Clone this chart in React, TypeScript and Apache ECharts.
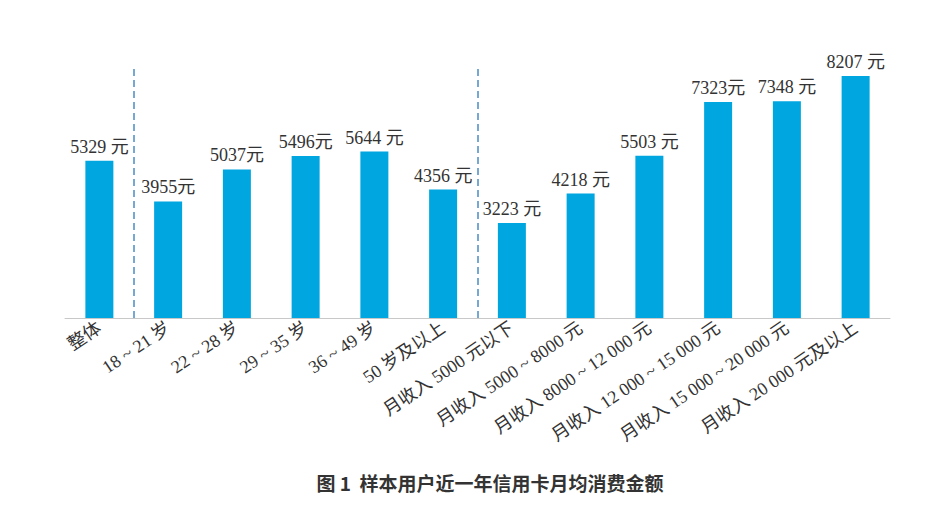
import { useEffect, useRef } from "react";
import * as echarts from "echarts";

const categories = [
  "整体",
  "18 ~ 21 岁",
  "22 ~ 28 岁",
  "29 ~ 35 岁",
  "36 ~ 49 岁",
  "50 岁及以上",
  "月收入 5000 元以下",
  "月收入 5000 ~ 8000 元",
  "月收入 8000 ~ 12 000 元",
  "月收入 12 000 ~ 15 000 元",
  "月收入 15 000 ~ 20 000 元",
  "月收入 20 000 元及以上",
];
const values = [5329, 3955, 5037, 5496, 5644, 4356, 3223, 4218, 5503, 7323, 7348, 8207];
const valueLabels = [
  "5329 元",
  "3955元",
  "5037元",
  "5496元",
  "5644 元",
  "4356 元",
  "3223 元",
  "4218 元",
  "5503 元",
  "7323元",
  "7348 元",
  "8207 元",
];
// group separators sit on category boundaries
const separators = [1, 6];

const serif = '"Liberation Serif", "Noto Sans CJK SC", serif';

const App = () => {
  const chartRef = useRef<HTMLDivElement>(null);

  useEffect(() => {
    if (!chartRef.current) return;
    const chart = echarts.init(chartRef.current, null, { renderer: "svg" });

    chart.setOption({
      animation: false,
      backgroundColor: "#fff",
      title: {
        text: "图 1  样本用户近一年信用卡月均消费金额",
        left: 477,
        textAlign: "center",
        top: 460,
        textStyle: {
          fontFamily: '"Noto Sans CJK SC", sans-serif',
          fontSize: 19,
          fontWeight: "bold",
          color: "#333",
        },
      },
      grid: { left: 57, right: 52, top: 57, bottom: 200 },
      xAxis: [
        {
          type: "category",
          data: categories,
          axisLine: { lineStyle: { color: "#c8c8c8", width: 1 } },
          axisTick: { length: 4, lineStyle: { color: "#c8c8c8" } },
          axisLabel: {
            interval: 0,
            rotate: 34,
            margin: 8,
            color: "#333",
            fontFamily: serif,
            fontSize: 18,
          },
        },
        { type: "value", min: 0, max: 12, show: false },
      ],
      yAxis: { type: "value", min: 0, max: 8580, show: false },
      series: [
        {
          type: "bar",
          data: values,
          barWidth: 28,
          itemStyle: { color: "#00a6e0" },
          label: {
            show: true,
            position: "top",
            distance: 5,
            color: "#333",
            fontFamily: serif,
            fontSize: 18,
            formatter: (p: any) => valueLabels[p.dataIndex],
          },
        },
        {
          type: "scatter",
          xAxisIndex: 1,
          data: [],
          markLine: {
            silent: true,
            symbol: "none",
            label: { show: false },
            lineStyle: { color: "#4a8cc4", type: [7, 4], width: 1.5 },
            data: separators.map((x) => ({ xAxis: x })),
          },
        },
      ],
    });

    return () => {
      chart.dispose();
    };
  }, []);

  return <div ref={chartRef} style={{ width: 934, height: 510 }} />;
};

export default App;
